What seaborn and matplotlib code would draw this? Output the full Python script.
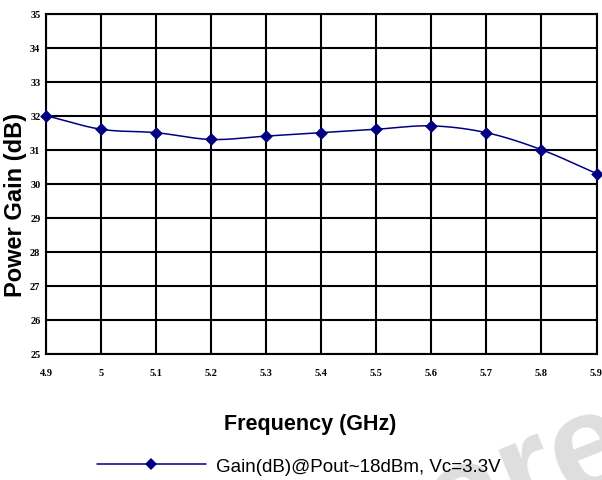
import numpy as np
import pandas as pd
import matplotlib
matplotlib.use("Agg")
import matplotlib.pyplot as plt
import seaborn as sns
from matplotlib.lines import Line2D

# Measured power gain across the band
freq_ghz = [4.9, 5.0, 5.1, 5.2, 5.3, 5.4, 5.5, 5.6, 5.7, 5.8, 5.9]
gain_db = [32.0, 31.6, 31.5, 31.3, 31.4, 31.5, 31.6, 31.7, 31.5, 31.0, 30.3]
x_ticks = [4.9, 5.0, 5.1, 5.2, 5.3, 5.4, 5.5, 5.6, 5.7, 5.8, 5.9]
x_tick_labels = ["4.9", "5", "5.1", "5.2", "5.3", "5.4", "5.5", "5.6", "5.7", "5.8", "5.9"]
y_ticks = [25, 26, 27, 28, 29, 30, 31, 32, 33, 34, 35]
series_label = "Gain(dB)@Pout~18dBm, Vc=3.3V"

NAVY = "#000080"
W, H = 602, 481

sns.set_theme(style="white")
plt.rcParams["font.family"] = ["Liberation Sans", "DejaVu Sans"]
for key in ("text.color", "axes.labelcolor", "xtick.color", "ytick.color"):
    plt.rcParams[key] = "black"


def catmull_rom(x, y, n=30):
    """Smooth curve passing through every sample (Catmull-Rom)."""
    x = np.asarray(x, float)
    y = np.asarray(y, float)
    px = np.concatenate([[2 * x[0] - x[1]], x, [2 * x[-1] - x[-2]]])
    py = np.concatenate([[2 * y[0] - y[1]], y, [2 * y[-1] - y[-2]]])
    xs, ys = [], []
    t = np.linspace(0, 1, n, endpoint=False)
    for i in range(1, len(px) - 2):
        p0, p1, p2, p3 = px[i - 1:i + 3]
        q0, q1, q2, q3 = py[i - 1:i + 3]
        for arr, a0, a1, a2, a3 in ((xs, p0, p1, p2, p3), (ys, q0, q1, q2, q3)):
            arr.extend(0.5 * (2 * a1 + (-a0 + a2) * t
                              + (2 * a0 - 5 * a1 + 4 * a2 - a3) * t ** 2
                              + (-a0 + 3 * a1 - 3 * a2 + a3) * t ** 3))
    xs.append(x[-1])
    ys.append(y[-1])
    return np.array(xs), np.array(ys)


df = pd.DataFrame({"freq": freq_ghz, "gain": gain_db})
sx, sy = catmull_rom(freq_ghz, gain_db)
smooth = pd.DataFrame({"freq": sx, "gain": sy})

fig = plt.figure(figsize=(W / 100, H / 100), dpi=100)
fig.patch.set_facecolor("white")

# faint watermark lettering in the lower right corner
fig.text(447 / W, 1 - 549 / H, "are", fontsize=100, fontweight="bold",
         color="#dedede", rotation=22, rotation_mode="anchor",
         ha="left", va="baseline", zorder=0)

ax = fig.add_axes([46 / W, 1 - 355 / H, 550.5 / W, 340.5 / H])
ax.set_facecolor("none")

sns.lineplot(data=smooth, x="freq", y="gain", ax=ax, color=NAVY, linewidth=1.1,
             sort=False, estimator=None, zorder=3)
sns.scatterplot(data=df, x="freq", y="gain", ax=ax, color=NAVY, marker="D",
                s=42, linewidth=0, zorder=4, clip_on=False)

ax.set_xlim(4.9, 5.9)
ax.set_ylim(25, 35)
ax.set_xticks(x_ticks)
ax.set_xticklabels(x_tick_labels)
ax.set_yticks(y_ticks)
ax.set_yticklabels([str(v) for v in y_ticks])
ax.grid(True, color="black", linewidth=1.5)
for s in ax.spines.values():
    s.set_color("black")
    s.set_linewidth(1.5)
ax.tick_params(axis="both", length=0, labelsize=7.5)
ax.tick_params(axis="x", pad=10)
ax.tick_params(axis="y", pad=4)
for lab in ax.get_xticklabels() + ax.get_yticklabels():
    lab.set_family(["Liberation Serif", "DejaVu Serif"])
    lab.set_fontweight("bold")

ax.set_xlabel("")
ax.set_ylabel("")

fig.text(16 / W, 1 - 205 / H, "Power Gain (dB)", fontsize=17,
         fontweight="bold", rotation=90, ha="center", va="center")
fig.text(310 / W, 1 - 425 / H, "Frequency (GHz)", fontsize=15.5,
         fontweight="bold", ha="center", va="center")

handle = Line2D([], [], color=NAVY, linewidth=1.1, marker="D", markersize=6.5,
                markeredgewidth=0)
fig.legend([handle], [series_label], loc="center left",
           bbox_to_anchor=(97 / W, 1 - 467 / H), frameon=False,
           fontsize=13.5, handlelength=5.8, handletextpad=0.55,
           borderpad=0, borderaxespad=0, markerscale=1)

fig.savefig("out.png", dpi=100, facecolor="white")
